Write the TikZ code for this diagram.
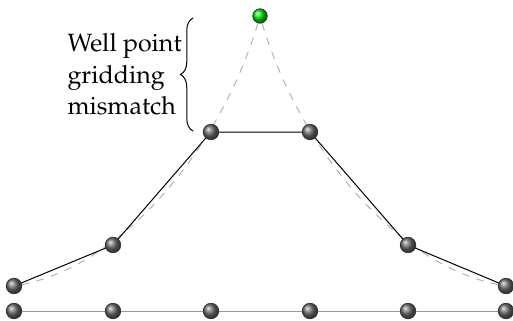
\documentclass[tikz,border=0pt]{standalone}
\usepackage[T1]{fontenc}
\usepackage{mathpazo}
\usetikzlibrary{decorations.pathreplacing}

\tikzset{
    gridpt/.style={circle, inner sep=0pt, minimum size=6.2pt, draw=black!80, line width=0.3pt, shading=ball, ball color=gray!85!black},
    wellpt/.style={circle, inner sep=0pt, minimum size=5.8pt, draw=black!80, line width=0.3pt, shading=ball, ball color=green!90!black},
}

\begin{document}
\begin{tikzpicture}[x=0.4pt, y=-0.4pt, thin]
    \useasboundingbox (0,0) rectangle (513,320);

    % well point and gridded profile
    \node[wellpt] (w) at (260,16) {};
    \draw[gray!60, dashed] (w) .. controls (220,150) and (120,270) .. (14,286);
    \draw[gray!60, dashed] (w) .. controls (300,150) and (400,270) .. (506,286);

    \draw[gray!80] (14,311) -- (506,311);
    \draw (14,286) -- (113,245) -- (211,132) -- (310,132) -- (408,245) -- (506,286);

    \foreach \x [count=\i] in {14,113,211,310,408,506}
        \node[gridpt] (b\i) at (\x,311) {};
    \foreach \x/\y [count=\i] in {14/286,113/245,211/132,310/132,408/245,506/286}
        \node[gridpt] (t\i) at (\x,\y) {};

    % brace and label
    \draw[decorate, decoration={brace, amplitude=5pt}] (193,131) -- (193,18) coordinate[midway] (m);
    \node[anchor=east, align=left, xshift=-1pt, font={\fontsize{10}{12.6}\selectfont}] (lbl) at (m) {Well point\\gridding\\mismatch};
\end{tikzpicture}
\end{document}
